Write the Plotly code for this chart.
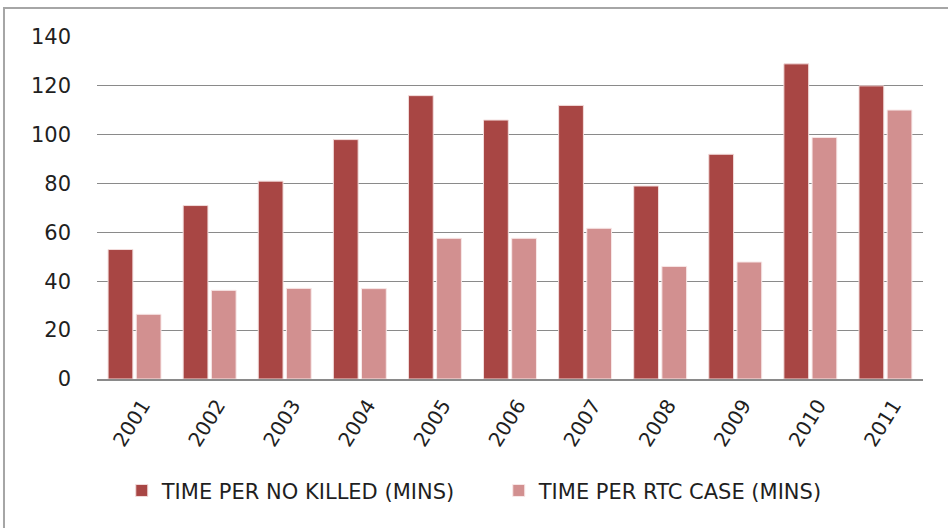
import plotly.graph_objects as go

years = ["2001", "2002", "2003", "2004", "2005", "2006", "2007", "2008", "2009", "2010", "2011"]
time_per_killed = [53, 71, 81, 98, 116, 106, 112, 79, 92, 129, 120]
time_per_rtc = [26.5, 36.3, 37.1, 37, 57.6, 57.6, 61.7, 46.1, 47.9, 98.9, 110.1]
y_ticks = [0, 20, 40, 60, 80, 100, 120, 140]

font_name = "DejaVu Sans"

fig = go.Figure()
fig.add_trace(go.Bar(x=years, y=time_per_killed, name="TIME PER NO KILLED (MINS)",
                     marker=dict(color="#A84644", line=dict(color="#F2DCDB", width=1))))
fig.add_trace(go.Bar(x=years, y=time_per_rtc, name="TIME PER RTC CASE (MINS)",
                     marker=dict(color="#D29090", line=dict(color="#F8E8E8", width=1))))

fig.update_layout(
    width=948, height=528,
    margin=dict(l=97, r=25, t=37, b=149),
    paper_bgcolor="white", plot_bgcolor="white",
    barmode="group", bargap=0.25, bargroupgap=0.12,
    font=dict(family=font_name, size=20, color="#1f1f1f"),
    legend=dict(orientation="h", x=0.03, xanchor="left", y=-0.327, yanchor="middle",
                font=dict(size=21), itemwidth=30, entrywidth=332),
    showlegend=True,
)

fig.update_yaxes(range=[0, 140], tickvals=y_ticks, showgrid=True, gridcolor="#8a8a8a", gridwidth=1,
                 zeroline=False, showline=False, ticks="", ticklabelstandoff=25,
                 tickfont=dict(size=21), automargin=False)
fig.update_xaxes(showline=True, linecolor="#8a8a8a", linewidth=1.5, tickangle=-58, ticks="",
                 ticklabelstandoff=5, ticklabelshift=8,
                 tickfont=dict(size=20), automargin=False)

# outer chart frame
fig.add_shape(type="rect", xref="paper", yref="paper",
              x0=-0.1126, x1=1.04, y0=-0.45, y1=1.0848,
              line=dict(color="#a6a6a6", width=2), fillcolor="rgba(0,0,0,0)", layer="below")

fig.write_html("out.html", config={"displayModeBar": False},
               post_script="document.body.style.margin = '0';")
